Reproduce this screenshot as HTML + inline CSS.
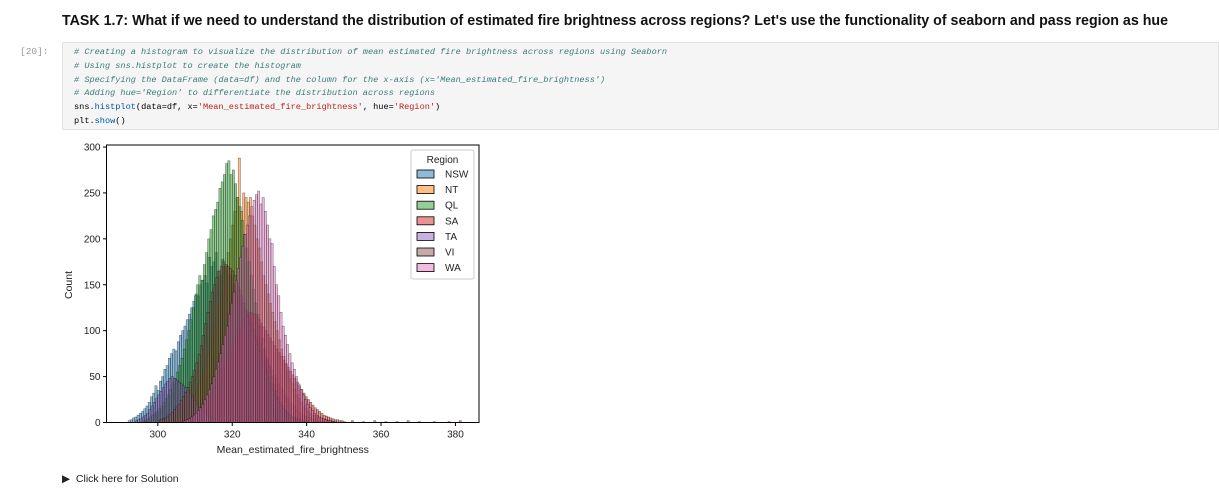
<!DOCTYPE html>
<html><head><meta charset="utf-8"><style>
body{margin:0;width:1219px;height:498px;background:#fff;overflow:hidden;position:relative;font-family:"Liberation Sans",sans-serif}
.p{position:absolute;left:20px;top:46px;font:9.5px "Liberation Mono",monospace;color:#999}
.cell{position:absolute;left:62px;top:42px;width:1157px;height:88px;background:#f5f5f5;border:1px solid #e0e0e0;box-sizing:border-box}
.code{position:absolute;left:74px;top:46px;font:8.6px/13.8px "Liberation Mono",monospace;color:#000;white-space:pre}
.c{color:#3d7b7b;font-style:italic}.s{color:#ba2121}.f{color:#0055aa}
.sol{position:absolute;left:62px;top:473px;font-size:10.5px;color:#222}
</style></head><body>
<svg width="1219" height="40" style="position:absolute;left:0;top:0"><text x="62" y="25" font-size="15" font-weight="bold" fill="#111" textLength="1106" lengthAdjust="spacingAndGlyphs" font-family="Liberation Sans">TASK 1.7: What if we need to understand the distribution of estimated fire brightness across regions? Let's use the functionality of seaborn and pass region as hue</text></svg>
<div class="cell"></div>
<div class="p">[20]:</div>
<div class="code"><span class="c"># Creating a histogram to visualize the distribution of mean estimated fire brightness across regions using Seaborn</span>
<span class="c"># Using sns.histplot to create the histogram</span>
<span class="c"># Specifying the DataFrame (data=df) and the column for the x-axis (x='Mean_estimated_fire_brightness')</span>
<span class="c"># Adding hue='Region' to differentiate the distribution across regions</span>
sns.<span class="f">histplot</span>(data=df, x=<span class="s">'Mean_estimated_fire_brightness'</span>, hue=<span class="s">'Region'</span>)
plt.<span class="f">show</span>()</div>
<svg id="ch" width="1219" height="498" style="position:absolute;left:0;top:0"></svg>
<div class="sol">&#9654;&nbsp; Click here for Solution</div>
<script>
const regions=["NSW","NT","QL","SA","TA","VI","WA"];
const colors=["#1f77b4","#ff7f0e","#2ca02c","#d62728","#9467bd","#8c564b","#e377c2"];
const binWidth=0.6;
const starts=[292,303,296,306,294,300,307];
const NSW=[2,3,5,6,8,10,12,15,18,22,28,32,40,35,45,50,58,62,70,75,80,78,88,95,100,105,112,118,125,132,140,138,150,155,160,152,180,170,175,185,165,160,178,170,168,162,158,150,145,148,135,130,125,120,112,108,100,95,90,85,80,72,68,62,58,52,48,42,38,35,30,26,22,20,17,14,12,10,8,7,6,5,4,3,3,2,2,1];
const NT=[2,3,4,5,7,9,11,14,17,20,25,30,35,42,50,58,65,75,85,95,105,115,128,140,155,170,185,200,215,230,245,288,230,250,245,240,245,225,215,200,190,175,160,150,140,130,120,110,100,90,80,72,64,56,48,42,36,30,26,22,18,15,12,10,8,7,6,5,4,3,3,2,2,1];
const QL=[2,3,4,6,8,10,12,15,18,22,26,30,36,42,48,55,62,70,80,90,100,112,125,138,150,160,155,172,185,200,210,225,232,240,255,262,270,282,285,270,275,260,245,235,220,205,190,175,160,145,130,118,105,92,80,70,60,50,42,35,28,22,18,14,11,8,6,5,4,3,2,1];
const SA=[1,2,3,4,5,6,8,10,12,14,17,20,24,28,32,37,42,48,54,60,66,72,78,84,90,96,102,108,112,116,118,120,119,118,115,112,108,104,100,96,92,88,84,80,76,72,68,64,60,56,52,48,44,40,36,32,28,25,22,19,16,14,12,10,8,7,6,5,4,3,3,2,2,1];
const TA=[2,3,4,6,8,10,14,18,22,26,30,34,38,42,45,48,50,48,46,44,42,40,38,35,32,28,24,20,17,14,11,9,7,5,4,3,2,1];
const VI=[2,3,4,5,7,9,11,14,17,20,24,28,33,38,44,50,57,65,74,84,95,108,120,132,142,150,158,165,170,175,172,170,168,165,160,152,145,138,130,122,115,108,100,92,85,78,70,62,55,48,42,36,30,26,22,18,15,12,10,8,6,5,4,3,2,2,1];
const WA=[2,3,4,6,8,10,13,16,20,25,30,36,42,50,58,66,75,85,95,105,118,130,142,155,168,180,192,205,215,225,235,242,248,252,238,245,230,215,200,195,170,150,138,120,105,95,85,75,65,58,50,42,36,30,25,20,16,13,10,8,6,5,4,3,2,2,1,1];
const series=[NSW,NT,QL,SA,TA,VI,WA];
const tailX=[352,355,358,361,364,367,370,374,378,381];
const tailY=[2,1,2,1,1,2,1,1,1,2];
const xTicks=[300,320,340,360,380];
const yTicks=[0,50,100,150,200,250,300];
const L=106.5,R=479,T=145,B=422.5,X0=286.2,PX=3.72,PY=(422.5-147)/300;
const X=v=>L+(v-X0)*PX, Y=v=>B-v*PY;
const svg=document.getElementById('ch');const NS='http://www.w3.org/2000/svg';
function mk(t,a){const e=document.createElementNS(NS,t);for(const k in a)e.setAttribute(k,a[k]);svg.appendChild(e);return e;}
series.forEach((arr,si)=>{arr.forEach((v,i)=>{const x0=starts[si]+i*binWidth;
 const r=mk('rect',{x:X(x0),y:Y(v),width:binWidth*PX,height:v*PY,fill:colors[si],'fill-opacity':0.5,stroke:'#000','stroke-opacity':0.55,'stroke-width':0.5});
 
 });});
tailX.forEach((v,i)=>{const r=mk('rect',{x:X(v),y:Y(tailY[i]),width:binWidth*PX,height:tailY[i]*PY,fill:colors[3],'fill-opacity':0.5,stroke:'#000','stroke-opacity':0.55,'stroke-width':0.5});
 
 });
const fr=mk('rect',{x:L,y:T,width:R-L,height:B-T,fill:'none',stroke:'#000','stroke-width':1});


xTicks.forEach(v=>{mk('line',{x1:X(v),x2:X(v),y1:B,y2:B+3.5,stroke:'#000'});
 const t=mk('text',{x:X(v),y:B+15,'text-anchor':'middle','font-size':10,fill:'#222','font-family':'Liberation Sans'});t.textContent=v;
 
 });
yTicks.forEach(v=>{mk('line',{x1:L-3.5,x2:L,y1:Y(v),y2:Y(v),stroke:'#000'});
 const t=mk('text',{x:L-6,y:Y(v)+3.5,'text-anchor':'end','font-size':10,fill:'#222','font-family':'Liberation Sans'});t.textContent=v;
 
 });
let xt=mk('text',{x:(L+R)/2,y:453,'text-anchor':'middle','font-size':10.5,fill:'#222','font-family':'Liberation Sans'});xt.textContent='Mean_estimated_fire_brightness';


let yt=mk('text',{x:0,y:0,transform:'translate(72,285) rotate(-90)','text-anchor':'middle','font-size':10.5,fill:'#222','font-family':'Liberation Sans'});yt.textContent='Count';


const lg=mk('rect',{x:411,y:150,width:63,height:129,rx:2,fill:'#fff','fill-opacity':0.8,stroke:'#ccc'});


let lt=mk('text',{x:442.5,y:163,'text-anchor':'middle','font-size':10,fill:'#222','font-family':'Liberation Sans'});lt.textContent='Region';


regions.forEach((r,i)=>{const y=174+i*15.6;
 const s=mk('rect',{x:417,y:y-4,width:17,height:8,fill:colors[i],'fill-opacity':0.5,stroke:'#000','stroke-width':0.8});
 
 
 const t=mk('text',{x:445,y:y+3.5,'font-size':10,fill:'#222','font-family':'Liberation Sans'});t.textContent=r;
 
 });
</script>
</body></html>
